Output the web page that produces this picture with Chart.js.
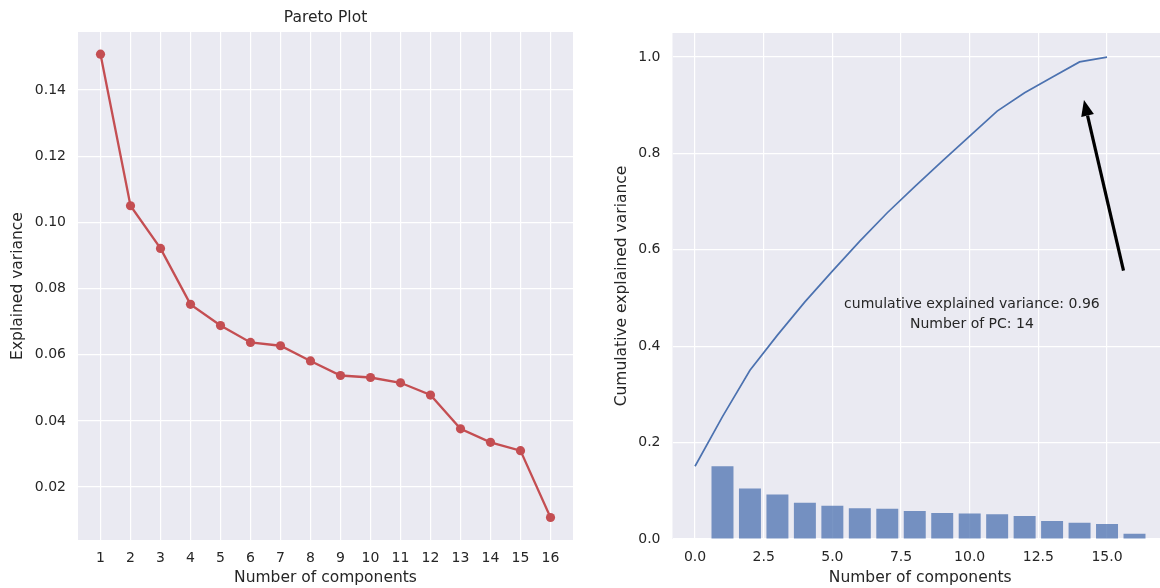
<!DOCTYPE html>
<html><head><meta charset="utf-8">
<script src="https://cdn.jsdelivr.net/npm/chart.js@4/dist/chart.umd.min.js"></script>
<style>
html,body{margin:0;padding:0;background:#fff;overflow:hidden;width:1160px;height:588px;}
#left{position:absolute;left:0;top:0;width:580px;height:588px;}
#right{position:absolute;left:580px;top:0;width:588px;height:588px;}
</style></head><body>
<div id="left"><canvas id="c1"></canvas></div>
<div id="right"><canvas id="c2"></canvas></div>
<script>
// ---- data ----
const components = [1, 2, 3, 4, 5, 6, 7, 8, 9, 10, 11, 12, 13, 14, 15, 16];
const explainedVariance = [0.1508, 0.1050, 0.0921, 0.0752, 0.0688, 0.0637, 0.0627, 0.0581,
                           0.0537, 0.0531, 0.0515, 0.0478, 0.0376, 0.0335, 0.0310, 0.0108];
const cumulativeIndex = [0, 1, 2, 3, 4, 5, 6, 7, 8, 9, 10, 11, 12, 13, 14, 15];
const cumulativeVariance = [0.151, 0.254, 0.350, 0.423, 0.492, 0.556, 0.618, 0.677,
                            0.731, 0.784, 0.836, 0.888, 0.926, 0.958, 0.990, 1.000];
const leftYTicks = [0.02, 0.04, 0.06, 0.08, 0.10, 0.12, 0.14];
const rightXTicks = [0.0, 2.5, 5.0, 7.5, 10.0, 12.5, 15.0];
const rightYTicks = [0.0, 0.2, 0.4, 0.6, 0.8, 1.0];
const annotationLines = ['cumulative explained variance: 0.96', 'Number of PC: 14'];

// ---- styling ----
const FONT = "'DejaVu Sans', sans-serif";
const TXT = '#262626';
Chart.defaults.font.family = FONT;
Chart.defaults.color = TXT;
const GRID = { color: '#ffffff', lineWidth: 1.2, drawTicks: false };

const bgPlugin = {
  id: 'bg',
  beforeDraw(chart) {
    const { ctx, chartArea: a } = chart;
    ctx.save();
    ctx.fillStyle = '#eaeaf2';
    ctx.fillRect(a.left, a.top, a.right - a.left, a.bottom - a.top);
    ctx.restore();
  }
};

function setTicks(list) {
  return function (s) { s.ticks = list.map(v => ({ value: v })); };
}

// ---- left chart ----
new Chart(document.getElementById('c1'), {
  type: 'line',
  data: {
    datasets: [{
      data: components.map((c, i) => ({ x: c, y: explainedVariance[i] })),
      borderColor: '#c44e52',
      backgroundColor: '#c44e52',
      borderWidth: 2.3,
      pointRadius: 4.6,
      pointBorderWidth: 0,
      tension: 0
    }]
  },
  options: {
    responsive: true, maintainAspectRatio: false, animation: false,
    layout: { padding: { top: 0, right: 7, bottom: 0, left: 0 } },
    plugins: {
      legend: { display: false }, tooltip: { enabled: false },
      title: {
        display: true, text: 'Pareto Plot', fullSize: false, color: TXT,
        font: { size: 15.5, weight: 'normal' }, padding: { top: 9, bottom: 4.4 }
      }
    },
    scales: {
      x: {
        type: 'linear', min: 0.25, max: 16.75,
        afterBuildTicks: setTicks(components),
        afterFit(s) { s.height = 48; },
        grid: GRID, border: { display: false },
        ticks: { font: { size: 14 }, padding: 10, color: TXT, callback: v => String(v) },
        title: { display: true, text: 'Number of components', font: { size: 15.5 }, padding: { top: 1, bottom: 1 }, color: TXT }
      },
      y: {
        min: 0.004, max: 0.1575,
        afterBuildTicks: setTicks(leftYTicks),
        afterFit(s) { s.width = 78; },
        grid: GRID, border: { display: false },
        ticks: { font: { size: 14 }, padding: 12, color: TXT, callback: v => v.toFixed(2) },
        title: { display: true, text: 'Explained variance', font: { size: 15.5 }, padding: { top: 9, bottom: 9 }, color: TXT }
      }
    }
  },
  plugins: [bgPlugin]
});

// ---- right chart ----
const annotPlugin = {
  id: 'annot',
  afterDatasetsDraw(chart) {
    const { ctx, scales: { x, y } } = chart;
    // arrow
    const x1 = x.getPixelForValue(15.6), y1 = y.getPixelForValue(0.557);
    const x2 = x.getPixelForValue(14.16), y2 = y.getPixelForValue(0.911);
    const ang = Math.atan2(y2 - y1, x2 - x1);
    const headL = 16, headW = 6.5;
    const bx = x2 - headL * Math.cos(ang), by = y2 - headL * Math.sin(ang);
    ctx.save();
    ctx.strokeStyle = '#000'; ctx.fillStyle = '#000'; ctx.lineWidth = 3.2;
    ctx.beginPath(); ctx.moveTo(x1, y1); ctx.lineTo(bx, by); ctx.stroke();
    ctx.beginPath();
    ctx.moveTo(x2, y2);
    ctx.lineTo(bx + headW * Math.sin(ang), by - headW * Math.cos(ang));
    ctx.lineTo(bx - headW * Math.sin(ang), by + headW * Math.cos(ang));
    ctx.closePath(); ctx.fill();
    // text
    ctx.font = '14px ' + FONT;
    ctx.fillStyle = TXT; ctx.textAlign = 'center'; ctx.textBaseline = 'middle';
    const tx = x.getPixelForValue(10.08);
    ctx.fillText(annotationLines[0], tx, y.getPixelForValue(0.4866));
    ctx.fillText(annotationLines[1], tx, y.getPixelForValue(0.4455));
    ctx.restore();
  }
};

new Chart(document.getElementById('c2'), {
  type: 'bar',
  data: {
    datasets: [{
      type: 'line',
      data: cumulativeIndex.map((c, i) => ({ x: c, y: cumulativeVariance[i] })),
      borderColor: '#4c72b0', borderWidth: 1.7, pointRadius: 0, tension: 0, fill: false
    }, {
      type: 'bar',
      data: components.map((c, i) => ({ x: c, y: explainedVariance[i] })),
      backgroundColor: 'rgba(76,114,176,0.75)', borderWidth: 0,
      barPercentage: 0.8, categoryPercentage: 1.0
    }]
  },
  options: {
    responsive: true, maintainAspectRatio: false, animation: false,
    layout: { padding: { top: 33, right: 0, bottom: 0, left: 0 } },
    plugins: { legend: { display: false }, tooltip: { enabled: false } },
    scales: {
      x: {
        type: 'linear', min: -0.82, max: 17.22, offset: false,
        afterBuildTicks: setTicks(rightXTicks),
        afterFit(s) { s.height = 49; },
        grid: Object.assign({ offset: false }, GRID), border: { display: false },
        ticks: { font: { size: 14 }, padding: 10, color: TXT, callback: v => v.toFixed(1) },
        title: { display: true, text: 'Number of components', font: { size: 15.5 }, padding: { top: 1, bottom: 1 }, color: TXT }
      },
      y: {
        type: 'linear', min: 0, max: 1.05,
        afterBuildTicks: setTicks(rightYTicks),
        afterFit(s) { s.width = 92.5; },
        grid: GRID, border: { display: false },
        ticks: { font: { size: 14 }, padding: 12, color: TXT, callback: v => v.toFixed(1) },
        title: { display: true, text: 'Cumulative explained variance', font: { size: 15.5 }, padding: { top: 33, bottom: 33 }, color: TXT }
      }
    }
  },
  plugins: [bgPlugin, annotPlugin]
});
</script>
</body></html>
